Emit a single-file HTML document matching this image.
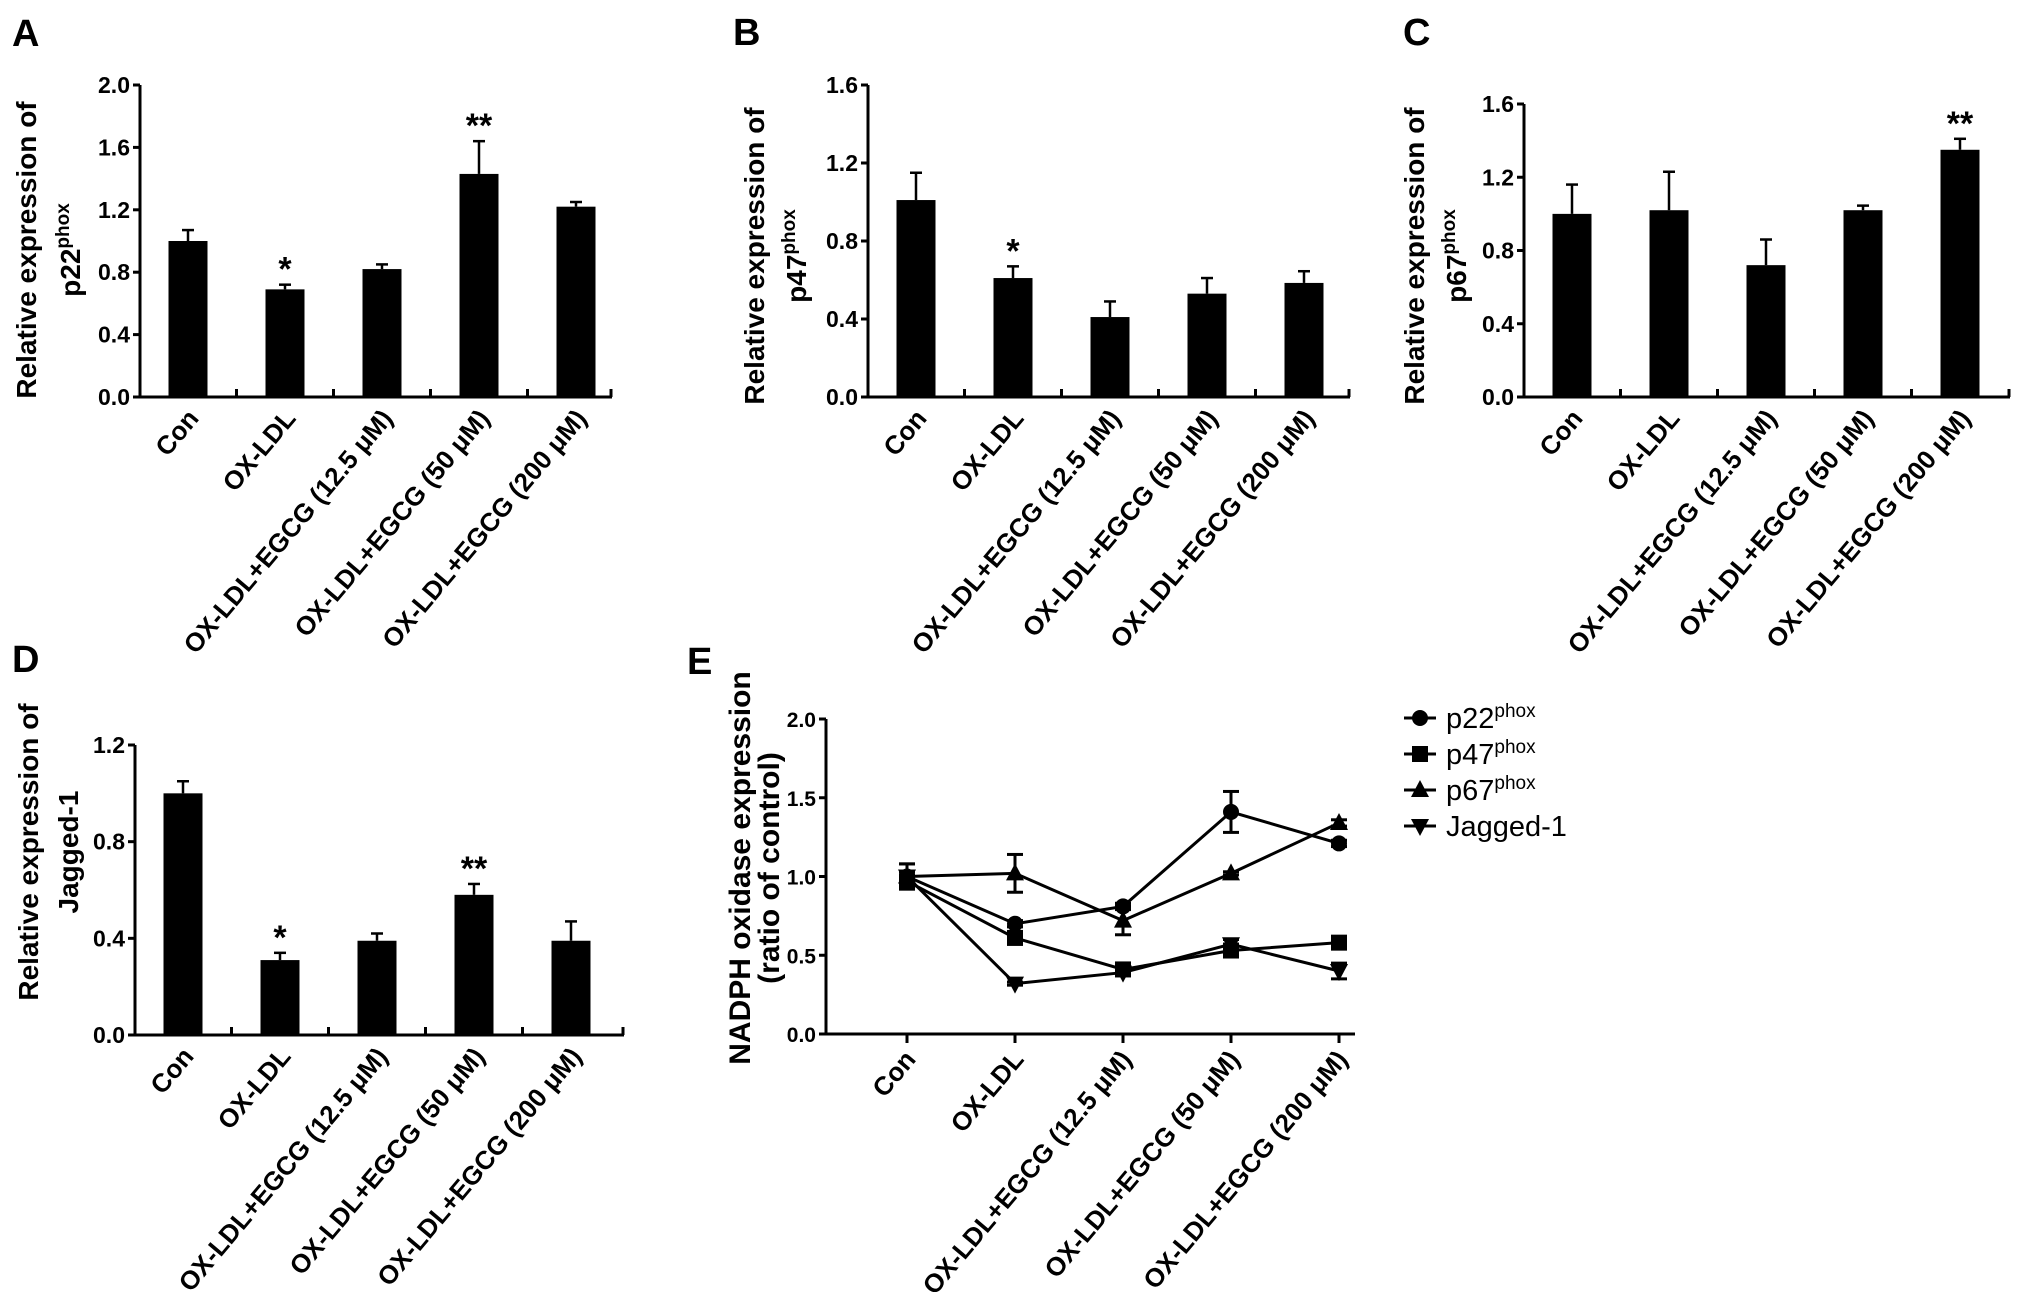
<!DOCTYPE html>
<html><head><meta charset="utf-8">
<style>
html,body{margin:0;padding:0;background:#fff;}
svg{display:block;font-family:"Liberation Sans",Arial,sans-serif;}
.tick{font-weight:bold;font-size:23px;}
.xl{font-weight:bold;font-size:26px;}
.yt{font-weight:bold;font-size:28px;}
.pl{font-weight:bold;font-size:38px;}
.leg{font-size:29px;}
</style></head>
<body>
<svg id="fig" width="2031" height="1292" viewBox="0 0 2031 1292"></svg>
<script>
const cats = ["Con","OX-LDL","OX-LDL+EGCG (12.5 μM)","OX-LDL+EGCG (50 μM)","OX-LDL+EGCG (200 μM)"];
const aVals = [1.0,0.69,0.82,1.43,1.22];
const aErr  = [0.07,0.03,0.03,0.21,0.03];
const aSig  = ["","*","","**",""];
const aTicks = [0,0.4,0.8,1.2,1.6,2.0];
const bVals = [1.01,0.61,0.41,0.53,0.585];
const bErr  = [0.14,0.06,0.08,0.08,0.06];
const bSig  = ["","*","","",""];
const bTicks = [0,0.4,0.8,1.2,1.6];
const cVals = [1.0,1.02,0.72,1.02,1.35];
const cErr  = [0.16,0.21,0.14,0.025,0.06];
const cSig  = ["","","","","**"];
const cTicks = [0,0.4,0.8,1.2,1.6];
const dVals = [1.0,0.31,0.39,0.58,0.39];
const dErr  = [0.05,0.03,0.03,0.045,0.08];
const dSig  = ["","*","","**",""];
const dTicks = [0,0.4,0.8,1.2];
const eTicks = [0,0.5,1.0,1.5,2.0];
const eP22 = [1.0,0.70,0.81,1.41,1.21];
const eP22Err = [0.08,0.02,0.02,0.13,0.02];
const eP47 = [0.97,0.61,0.41,0.53,0.58];
const eP47Err = [0.03,0.03,0.03,0.03,0.02];
const eP67 = [1.0,1.02,0.72,1.02,1.34];
const eP67Err = [0.08,0.12,0.09,0.01,0.02];
const eJag = [1.0,0.32,0.39,0.57,0.40];
const eJagErr = [0.03,0.01,0.02,0.03,0.05];

const NS="http://www.w3.org/2000/svg";
const svg=document.getElementById('fig');
function mk(tag,attrs,parent){const e=document.createElementNS(NS,tag);for(const k in attrs)e.setAttribute(k,attrs[k]);(parent||svg).appendChild(e);return e;}

function barPanel(id,letter,lx,ly,ax,x0,x1,yTop,yBot,ymax,ticks,vals,errs,sig,titleX1,titleX2,titleY,title2,first){
  const g=mk('g',{});
  
  
  const ys=v=>yBot-(v/ymax)*(yBot-yTop);
  const step=97, bw=39;
  const xs=i=>first+i*step;
  const L=mk('text',{x:lx,y:ly,class:'pl'},g);L.textContent=letter;
  
  
  const yax=mk('line',{x1:ax,y1:yTop,x2:ax,y2:yBot,stroke:'#000','stroke-width':3},g);
  
  
  const xax=mk('line',{x1:ax,y1:yBot,x2:x1,y2:yBot,stroke:'#000','stroke-width':3},g);
  
  
  mk('line',{x1:x1-1,y1:yBot,x2:x1-1,y2:yBot-8,stroke:'#000','stroke-width':3},g);
  ticks.forEach(t=>{
    mk('line',{x1:ax-7,y1:ys(t),x2:ax,y2:ys(t),stroke:'#000','stroke-width':3},g);
    const tl=mk('text',{x:ax-10,y:ys(t)+8,'text-anchor':'end',class:'tick'},g);
    tl.textContent=t.toFixed(1);
    
    
  });
  vals.forEach((v,i)=>{
    const cx=xs(i);
    if(i<vals.length-1) mk('line',{x1:cx+step/2,y1:yBot,x2:cx+step/2,y2:yBot-8,stroke:'#000','stroke-width':3},g);
    const r=mk('rect',{x:cx-bw/2,y:ys(v),width:bw,height:yBot-ys(v),fill:'#000'},g);
    
    
    const et=ys(v+errs[i]);
    mk('line',{x1:cx,y1:ys(v),x2:cx,y2:et,stroke:'#000','stroke-width':2.5},g);
    mk('line',{x1:cx-6,y1:et,x2:cx+6,y2:et,stroke:'#000','stroke-width':2.5},g);
    if(sig[i]){const s=mk('text',{x:cx,y:et-4,'text-anchor':'middle',style:'font-weight:bold;font-size:34px'},g);s.textContent=sig[i];
      
      }
    const xl=mk('text',{x:0,y:0,'text-anchor':'end',class:'xl',transform:`translate(${cx+12},${yBot+22}) rotate(-50)`},g);
    xl.textContent=cats[i];
    
    
  });
  const t1=mk('text',{x:0,y:0,'text-anchor':'middle',class:'yt',transform:`translate(${titleX1},${titleY}) rotate(-90)`},g);
  t1.textContent='Relative expression of';
  
  
  const t2=mk('text',{x:0,y:0,'text-anchor':'middle',class:'yt',transform:`translate(${titleX2},${titleY}) rotate(-90)`},g);
  t2.innerHTML=title2;
  
  
}
const sup=n=>`${n}<tspan dy="-11" style="font-size:19px">phox</tspan>`;
barPanel('a','A',12,46,140,140,612,85,397,2.0,aTicks,aVals,aErr,aSig,36,80,250,sup('p22'),188);
barPanel('b','B',733,45,868,868,1350,85,397,1.6,bTicks,bVals,bErr,bSig,764,806,256,sup('p47'),916);
barPanel('c','C',1403,45,1524,1524,2010,104,397,1.6,cTicks,cVals,cErr,cSig,1424,1466,256,sup('p67'),1572);
barPanel('d','D',12,672,135,135,624,745,1035,1.2,dTicks,dVals,dErr,dSig,38,78,852,'Jagged-1',183);

// Panel E
(function(){
  const g=mk('g',{});
  
  
  const ax=826, yTop=719, yBot=1034, x1=1355;
  const ys=v=>yBot-(v/2.0)*(yBot-yTop);
  const xs=i=>907+i*108;
  const L=mk('text',{x:687,y:674,class:'pl'},g);L.textContent='E';
  
  
  const ya=mk('line',{x1:ax,y1:yTop,x2:ax,y2:yBot,stroke:'#000','stroke-width':3},g);
  
  
  const xa=mk('line',{x1:ax,y1:yBot,x2:x1,y2:yBot,stroke:'#000','stroke-width':3},g);
  
  
  eTicks.forEach(t=>{
    mk('line',{x1:ax-7,y1:ys(t),x2:ax,y2:ys(t),stroke:'#000','stroke-width':3},g);
    const tl=mk('text',{x:ax-10,y:ys(t)+8,'text-anchor':'end',class:'tick',style:'font-size:21px'},g);
    tl.textContent=t.toFixed(1);
    
    
  });
  cats.forEach((c,i)=>{
    mk('line',{x1:xs(i),y1:yBot,x2:xs(i),y2:yBot+9,stroke:'#000','stroke-width':3},g);
    const xl=mk('text',{x:0,y:0,'text-anchor':'end',class:'xl',transform:`translate(${xs(i)+10},${yBot+26}) rotate(-50)`},g);
    xl.textContent=c;
    
    
  });
  function marker(kind,x,y,parent){
    if(kind==='circle') return mk('circle',{cx:x,cy:y,r:8,fill:'#000'},parent);
    if(kind==='square') return mk('rect',{x:x-8,y:y-8,width:16,height:16,fill:'#000'},parent);
    if(kind==='up') return mk('polygon',{points:`${x},${y-10} ${x-9},${y+7} ${x+9},${y+7}`,fill:'#000'},parent);
    return mk('polygon',{points:`${x},${y+10} ${x-9},${y-7} ${x+9},${y-7}`,fill:'#000'},parent);
  }
  const series=[['p22',eP22,eP22Err,'circle'],['p47',eP47,eP47Err,'square'],['p67',eP67,eP67Err,'up'],['jagged-1',eJag,eJagErr,'down']];
  series.forEach(([nm,vals,errs,kind])=>{
    const sg=mk('g',{},g);
    
    
    const pl=mk('polyline',{points:vals.map((v,i)=>xs(i)+','+ys(v)).join(' '),fill:'none',stroke:'#000','stroke-width':3},sg);
    
    
    vals.forEach((v,i)=>{
      const a=ys(v+errs[i]), b=ys(v-errs[i]);
      mk('line',{x1:xs(i),y1:a,x2:xs(i),y2:b,stroke:'#000','stroke-width':3},sg);
      mk('line',{x1:xs(i)-8,y1:a,x2:xs(i)+8,y2:a,stroke:'#000','stroke-width':3},sg);
      mk('line',{x1:xs(i)-8,y1:b,x2:xs(i)+8,y2:b,stroke:'#000','stroke-width':3},sg);
      const m=marker(kind,xs(i),ys(v),sg);
      
      
    });
  });
  const legNames=[sup('p22'),sup('p47'),sup('p67'),'Jagged-1'];
  const legKinds=['circle','square','up','down'];
  legNames.forEach((n,i)=>{
    const y=718+i*36;
    const lg=mk('g',{},g);
    
    
    mk('line',{x1:1404,y1:y,x2:1436,y2:y,stroke:'#000','stroke-width':3},lg);
    marker(legKinds[i],1420,y,lg);
    const t=mk('text',{x:1446,y:y+10,class:'leg'},lg);
    t.innerHTML=n;
  });
  const t1=mk('text',{x:0,y:0,'text-anchor':'middle',class:'yt',style:'font-size:30px',transform:`translate(${750},${868}) rotate(-90)`},g);
  t1.textContent='NADPH oxidase expression';
  
  
  const t2=mk('text',{x:0,y:0,'text-anchor':'middle',class:'yt',style:'font-size:30px',transform:`translate(${779},${868}) rotate(-90)`},g);
  t2.textContent='(ratio of control)';
  
  
})();
</script>
</body></html>
